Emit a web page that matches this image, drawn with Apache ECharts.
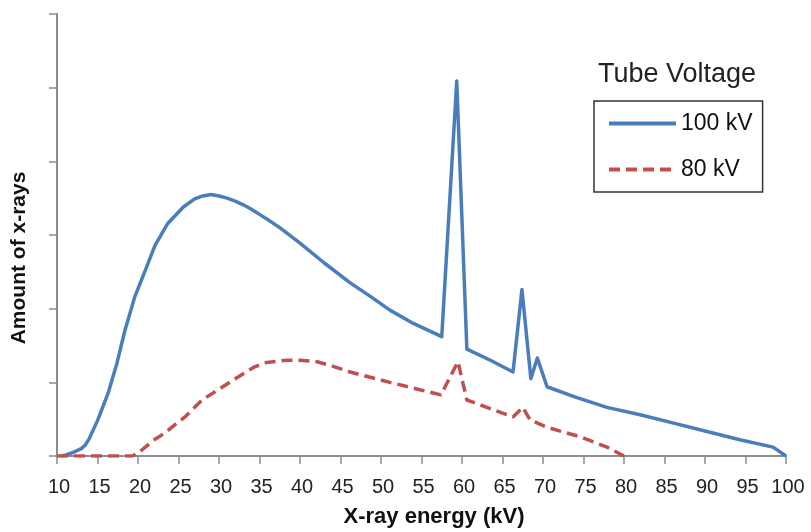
<!DOCTYPE html>
<html>
<head>
<meta charset="utf-8">
<title>X-ray spectrum</title>
<script src="https://cdn.jsdelivr.net/npm/echarts@6/dist/echarts.min.js"></script>
<style>
  html, body { margin: 0; padding: 0; background: #fff; }
  #axismain { width: 811px; height: 532px; }
</style>
</head>
<body>
<div id="axismain"></div>
<script>
// 100 kV 管电压
var energy100 = [10.5, 11, 12, 13, 13.5, 14, 15, 16.3, 17.4, 18.4, 19.6, 20.9, 22.1, 23.7, 25.6, 27, 28, 29, 30, 31, 32, 33, 34, 35, 36, 37.5, 40, 43, 46.2, 48.5, 51.1, 54, 57.5, 59.35, 60.6, 63.5, 66.3, 67.4, 68.5, 69.3, 70.5, 74, 77.9, 82, 86, 90, 94.3, 98.4, 100]
var amount100 = [0, 0.01, 0.05, 0.1, 0.15, 0.24, 0.48, 0.85, 1.26, 1.71, 2.16, 2.52, 2.86, 3.16, 3.38, 3.49, 3.53, 3.55, 3.53, 3.5, 3.46, 3.41, 3.35, 3.28, 3.21, 3.1, 2.89, 2.62, 2.35, 2.18, 1.98, 1.8, 1.62, 5.09, 1.45, 1.3, 1.14, 2.26, 1.05, 1.33, 0.94, 0.8, 0.66, 0.56, 0.45, 0.34, 0.22, 0.12, 0]

// 80 kV 管电压
var energy80 = [10, 19.3, 20, 20.9, 22, 23.3, 24.5, 25.8, 27.9, 29.9, 32.3, 34.4, 35.9, 38.4, 40, 42.1, 44, 46.2, 51.1, 54.8, 57.4, 59.5, 60.6, 66.3, 67.5, 68.4, 70.5, 74.6, 77.9, 80]
var amount80 = [0, 0, 0.04, 0.12, 0.22, 0.31, 0.42, 0.53, 0.76, 0.9, 1.07, 1.21, 1.27, 1.3, 1.3, 1.28, 1.22, 1.14, 1, 0.9, 0.83, 1.28, 0.76, 0.53, 0.66, 0.49, 0.39, 0.26, 0.12, 0]

var seriesNames = ['100 kV', '80 kV']
var legendTitle = 'Tube Voltage'
var xName = 'X-ray energy (kV)'
var yName = 'Amount of x-rays'

function toPairs(xs, ys) {
  return xs.map(function (x, i) { return [x, ys[i]] })
}

var chartObj = echarts.init(document.getElementById('axismain'))

var axisGrey = '#8c8c8c'

var option = {
  color: ['#4a7ebb', '#c0504d'],
  animation: false,
  textStyle: { fontFamily: 'Liberation Sans, Arial, sans-serif' },
  title: {
    text: legendTitle,
    left: 598,
    top: 61,
    padding: 0,
    textStyle: { fontSize: 27, fontWeight: 'normal', color: '#222' }
  },
  legend: {
    orient: 'vertical',
    left: 594,
    top: 101,
    padding: [11, 10, 11, 13],
    itemWidth: 67,
    itemHeight: 14,
    itemGap: 23,
    itemTextGap: 6,
    borderColor: '#333',
    borderWidth: 1.5,
    itemStyle: { opacity: 0 },
    lineStyle: { width: 4 },
    textStyle: { fontSize: 23, color: '#111' },
    data: seriesNames
  },
  grid: {
    left: 57,
    right: 25,
    top: 14,
    bottom: 76,
    containLabel: false,
    outerBoundsMode: 'none'
  },
  xAxis: {
    type: 'value',
    min: 10,
    max: 100,
    interval: 5,
    name: xName,
    nameLocation: 'middle',
    nameGap: 50,
    nameTextStyle: { fontSize: 22, fontWeight: 'bold', color: '#111', padding: [0, 0, 0, 25] },
    axisLine: { lineStyle: { color: axisGrey, width: 2 } },
    axisTick: { length: 8, lineStyle: { color: axisGrey, width: 1.5 } },
    axisLabel: { fontSize: 20, color: '#222', margin: 21, padding: [0, 0, 0, 4] },
    splitLine: { show: false }
  },
  yAxis: {
    type: 'value',
    min: 0,
    max: 6,
    interval: 1,
    name: yName,
    nameLocation: 'middle',
    nameGap: 27,
    nameRotate: 90,
    nameTextStyle: { fontSize: 21, fontWeight: 'bold', color: '#111', padding: [0, 46, 0, 0] },
    axisLine: { show: true, lineStyle: { color: axisGrey, width: 2 } },
    axisTick: { show: true, length: 8, lineStyle: { color: axisGrey, width: 1.5 } },
    axisLabel: { show: false },
    splitLine: { show: false }
  },
  series: [
    {
      name: seriesNames[0],
      type: 'line',
      symbol: 'none',
      lineStyle: { width: 3.5, color: '#4a7ebb', join: 'round' },
      data: toPairs(energy100, amount100)
    },
    {
      name: seriesNames[1],
      type: 'line',
      symbol: 'none',
      lineStyle: { width: 3.5, color: '#c0504d', type: [11, 6] },
      data: toPairs(energy80, amount80)
    }
  ]
}

chartObj.setOption(option, true)
</script>
</body>
</html>
